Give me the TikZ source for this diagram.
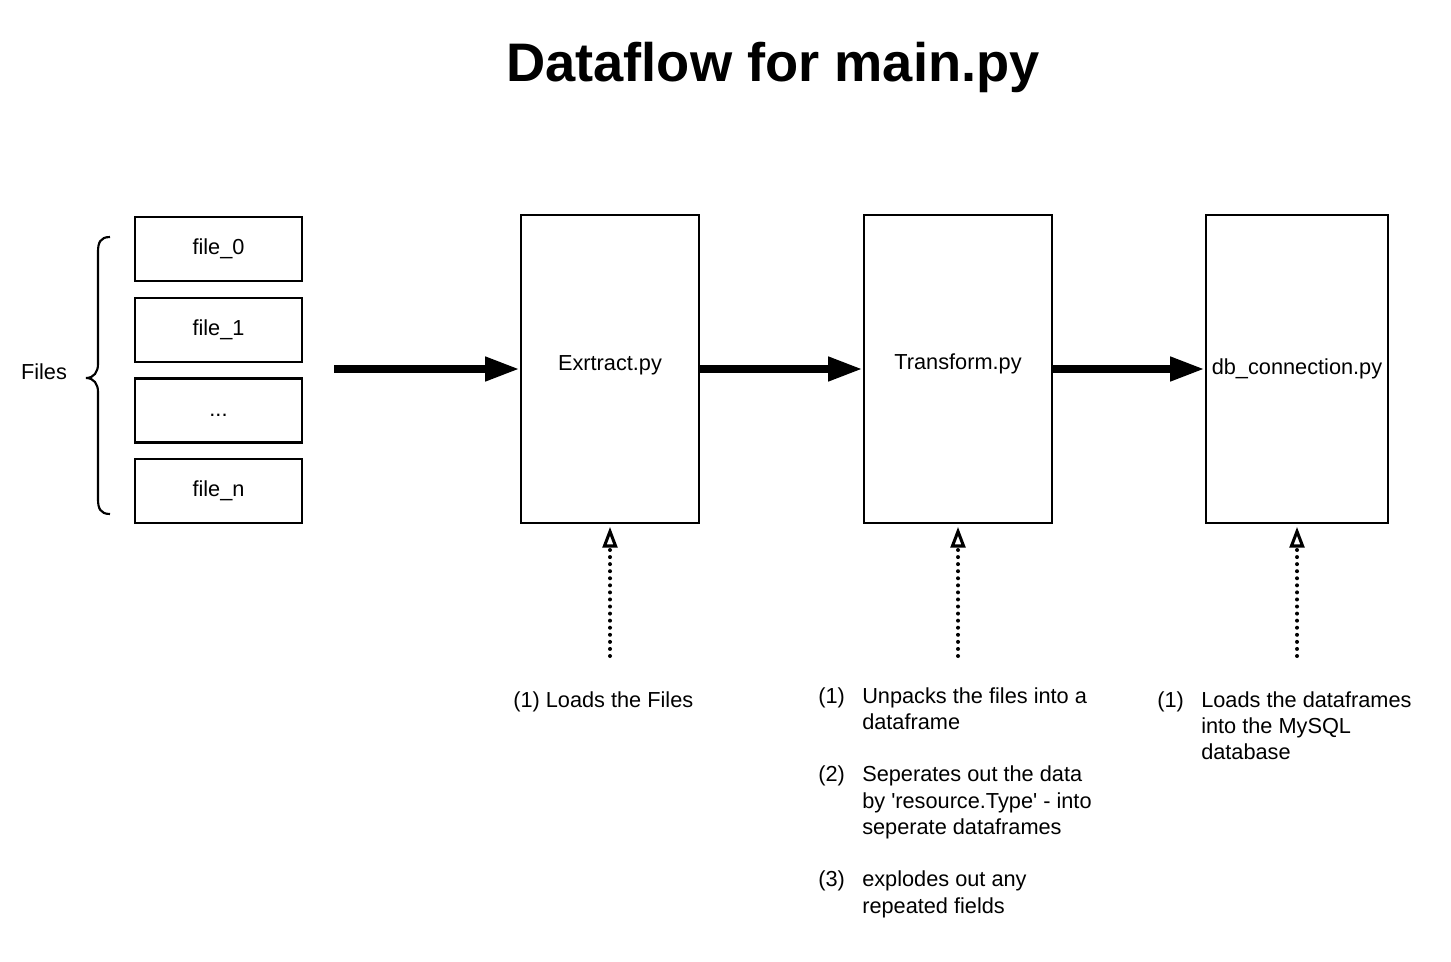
\documentclass[tikz,border=0pt]{standalone}
\usepackage{fontspec}
\setmainfont{Liberation Sans}
\usetikzlibrary{arrows.meta}
\newcommand\dfbody{\fontsize{16.3}{19.7}\selectfont}
\newcommand\dftitle{\fontsize{40.7}{48}\selectfont\bfseries}
\begin{document}
\begin{tikzpicture}[x=0.75pt,y=-0.75pt,
  filebox/.style={draw, line width=1.9pt, minimum width=125.25pt, minimum height=48pt, inner sep=0pt, font=\dfbody},
  stagebox/.style={draw, line width=1.8pt, minimum height=231pt, inner sep=0pt},
  txt/.style={inner sep=0pt, font=\dfbody},
  flow/.style={line width=6pt, -{Triangle[length=26pt,width=17pt]}},
  hint/.style={line width=3pt, dash pattern=on 0pt off 5.3pt, line cap=round,
    -{Triangle[open, length=15.5pt, width=11pt, line width=2.3pt]}, shorten >=2pt},
  brace/.style={line width=1.6pt}]
\useasboundingbox (0,0) rectangle (1451,962);

% title
\node[anchor=base, inner sep=0pt, font=\dftitle] (title) at (773,82) {Dataflow for main.py};

% file boxes
\node[filebox] (f0) at (218.5,249) {file\_0};
\node[filebox] (f1) at (218.5,330) {file\_1};
\node[filebox] (f2) at (218.5,410.5) {\vphantom{file\_0}...};
\node[filebox] (fn) at (218.5,491) {file\_n};

% brace and label
\draw[brace] (110,237) .. controls (100,237) and (98,243) .. (98,252)
  -- (98,364) .. controls (98,372) and (94,378) .. (86,378)
  .. controls (94,378) and (98,384) .. (98,392)
  -- (98,499) .. controls (98,508) and (100,514) .. (110,514);
\node[txt] (files) at (44,372) {Files};

% stage boxes
\node[stagebox, minimum width=133.5pt] (extract) at (610,369) {};
\node[stagebox, minimum width=141pt] (transform) at (958,369) {};
\node[stagebox, minimum width=136.5pt] (db) at (1297,369) {};
\node[txt] (extractlbl) at (610,365) {Exrtract.py};
\node[txt] (transformlbl) at (958,364) {Transform.py};
\node[txt] (dblbl) at (1297,369) {db\_connection.py};

% flow arrows
\coordinate (start) at (334,369);
\draw[flow] (start) -- (extract.west);
\draw[flow] (extract.east) -- (transform.west);
\draw[flow] (transform.east) -- (db.west);

% hint arrows
\coordinate (h1) at (610,656);
\coordinate (h2) at (958,656);
\coordinate (h3) at (1297,656);
\draw[hint] (h1) -- (extract.south);
\draw[hint] (h2) -- (transform.south);
\draw[hint] (h3) -- (db.south);

% notes
\node[txt, anchor=base west] (note1) at (513,707) {(1) Loads the Files};
\node[txt, anchor=base west] (note2) at (818,703)
  {\begin{tabular}[t]{@{}p{33pt}@{}l@{}}
   (1) & Unpacks the files into a\\
       & dataframe\\
       & \\
   (2) & Seperates out the data\\
       & by \textquotesingle resource.Type\textquotesingle{} - into\\
       & seperate dataframes\\
       & \\
   (3) & explodes out any\\
       & repeated fields
   \end{tabular}};
\node[txt, anchor=base west] (note3) at (1157,707)
  {\begin{tabular}[t]{@{}p{33pt}@{}l@{}}
   (1) & Loads the dataframes\\
       & into the MySQL\\
       & database
   \end{tabular}};
\end{tikzpicture}
\end{document}
